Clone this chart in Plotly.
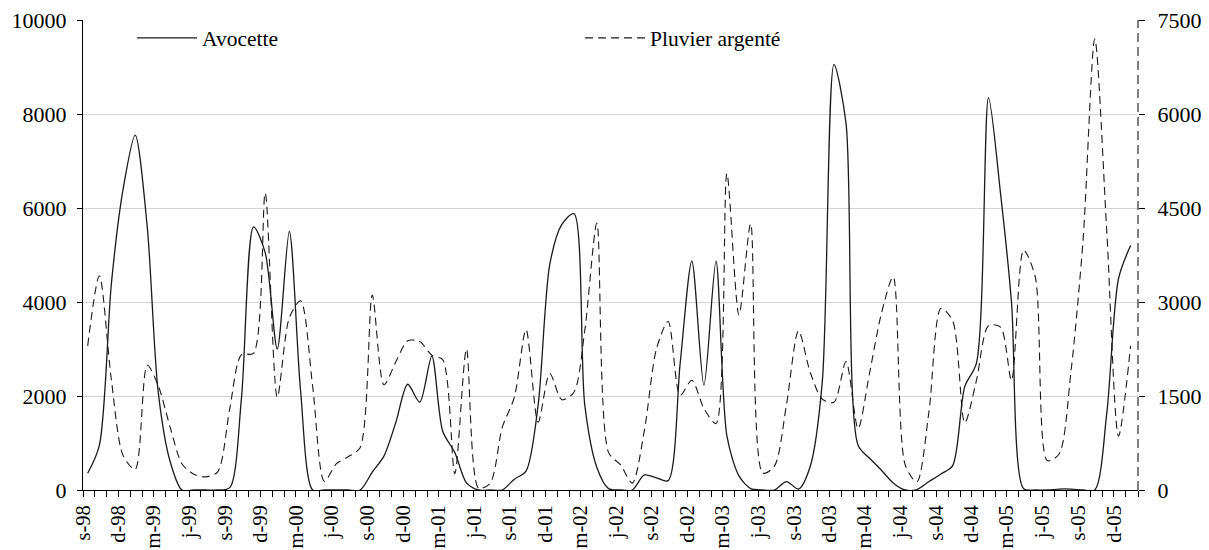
import pandas as pd
import plotly.graph_objects as go

# Monthly counts, September 1998 to January 2006 (one count per month, mid-month)
month_starts = pd.date_range("1998-09-01", "2006-01-01", freq="MS")
count_dates = (month_starts + pd.Timedelta(days=12)).strftime("%Y-%m-%d").tolist()

avocette = [
    355, 950, 4400, 6400, 7550, 5600, 2100, 600, 0, 0, 0, 0,          # s-98 .. a-99
    50, 1950, 5600, 5050, 3000, 5500, 2100, 0, 0, 0, 0, 0,            # s-99 .. a-00
    380, 720, 1450, 2250, 1870, 2850, 1250, 800, 150, 0, 0, 0,         # s-00 .. a-01
    230, 400, 1800, 4800, 5650, 5880, 1800, 480, 30, 0, 0, 320,        # s-01 .. a-02
    260, 200, 2700, 4870, 2230, 4870, 1150, 300, 30, 0, 0, 180,        # s-02 .. a-03
    20, 500, 2300, 9050, 7800, 950, 680, 420, 150, 0, 10, 180,         # s-03 .. a-04
    340, 520, 2200, 2700, 8350, 6300, 4000, 30, 0, 0, 20, 20,          # s-04 .. a-05
    0, 0, 1650, 4500, 5200,                                            # s-05 .. j-06
]

pluvier_argente = [
    2300, 3420, 1750, 550, 330, 1990, 1670, 1000, 420, 250, 210, 290,
    1300, 2160, 2180, 4740, 1480, 2750, 3020, 1650, 140, 420, 530, 680,
    3110, 1680, 2050, 2380, 2370, 2150, 2080, 260, 2250, 30, 110, 1000,
    1480, 2560, 1080, 1860, 1440, 1560, 2550, 4260, 600, 400, 110, 950,
    2250, 2690, 1510, 1750, 1300, 1060, 5050, 2790, 4250, 270, 380, 1360,
    2540, 1880, 1450, 1400, 2050, 980, 1850, 2820, 3400, 400, 130, 1250,
    2900, 2700, 1070, 1750, 2620, 2600, 1750, 3830, 3400, 470, 570, 1900,
    4000, 7200, 4100, 860, 2300,
]

tick_labels = [
    "s-98", "d-98", "m-99", "j-99", "s-99", "d-99", "m-00", "j-00", "s-00", "d-00",
    "m-01", "j-01", "s-01", "d-01", "m-02", "j-02", "s-02", "d-02", "m-03", "j-03",
    "s-03", "d-03", "m-04", "j-04", "s-04", "d-04", "m-05", "j-05", "s-05", "d-05",
]
tick_dates = pd.date_range("1998-09-01", periods=len(tick_labels), freq="3MS").strftime("%Y-%m-%d").tolist()

FONT = "Liberation Serif, Times New Roman, DejaVu Serif, serif"
INK = "#1a1a1a"

fig = go.Figure()
fig.add_trace(go.Scatter(
    x=count_dates, y=avocette, name="Avocette", mode="lines", yaxis="y",
    line=dict(color=INK, width=1.3, shape="spline", smoothing=0.8),
))
fig.add_trace(go.Scatter(
    x=count_dates, y=pluvier_argente, name="Pluvier argenté", mode="lines", yaxis="y2",
    line=dict(color=INK, width=1.1, dash="8px,5px", shape="spline", smoothing=0.8),
))

tickfont = dict(family=FONT, size=22, color="black")

fig.update_layout(
    width=1209, height=550,
    margin=dict(l=83, r=71, t=20, b=60, autoexpand=False),
    paper_bgcolor="white", plot_bgcolor="white",
    font=dict(family=FONT, size=22, color="black"),
    showlegend=True,
    legend=dict(
        orientation="h", x=0.0465, xanchor="left", y=0.962, yanchor="middle",
        itemwidth=60, entrywidth=373, entrywidthmode="pixels",
        bgcolor="rgba(0,0,0,0)", font=dict(family=FONT, size=21.5, color="black"),
    ),
    xaxis=dict(
        type="date", range=["1998-09-01", "2006-02-01"], automargin=False,
        tickmode="array", tickvals=tick_dates, ticktext=tick_labels, tickangle=-90,
        ticks="outside", ticklen=6, tickcolor="black", tickwidth=1,
        showline=True, linecolor="black", linewidth=1,
        showgrid=False, zeroline=False,
        tickfont=dict(family=FONT, size=20.5, color="black"),
        minor=dict(ticks="outside", ticklen=6, tickcolor="black", tickwidth=1,
                   dtick="M1", tick0="1998-09-01", showgrid=False),
    ),
    yaxis=dict(
        range=[0, 10000], tick0=0, dtick=2000, tickformat="d", automargin=False,
        showgrid=True, gridcolor="#d4d4d4", gridwidth=1,
        showline=True, linecolor="black", linewidth=1,
        ticks="outside", ticklen=5, tickcolor="black",
        zeroline=False, tickfont=tickfont, ticklabelstandoff=6,
    ),
    yaxis2=dict(
        overlaying="y", side="right", range=[0, 7500], tick0=0, dtick=1500,
        tickformat="d", automargin=False,
        showgrid=False, showline=False, zeroline=False,
        ticks="outside", ticklen=6, tickcolor="black",
        tickfont=tickfont, ticklabelstandoff=8,
    ),
    shapes=[
        dict(type="line", xref="paper", yref="paper", x0=1, x1=1, y0=0, y1=1,
             line=dict(color="black", width=1, dash="9px,5px")),
        dict(type="rect", xref="paper", yref="paper", x0=0.003, x1=0.804, y0=0.99, y1=1.01,
             fillcolor="white", line=dict(width=0), layer="between"),
    ],
)

fig.write_html(
    "out.html",
    config={"displayModeBar": False},
    post_script="document.body.style.margin='0px';document.body.style.overflow='hidden';",
)
